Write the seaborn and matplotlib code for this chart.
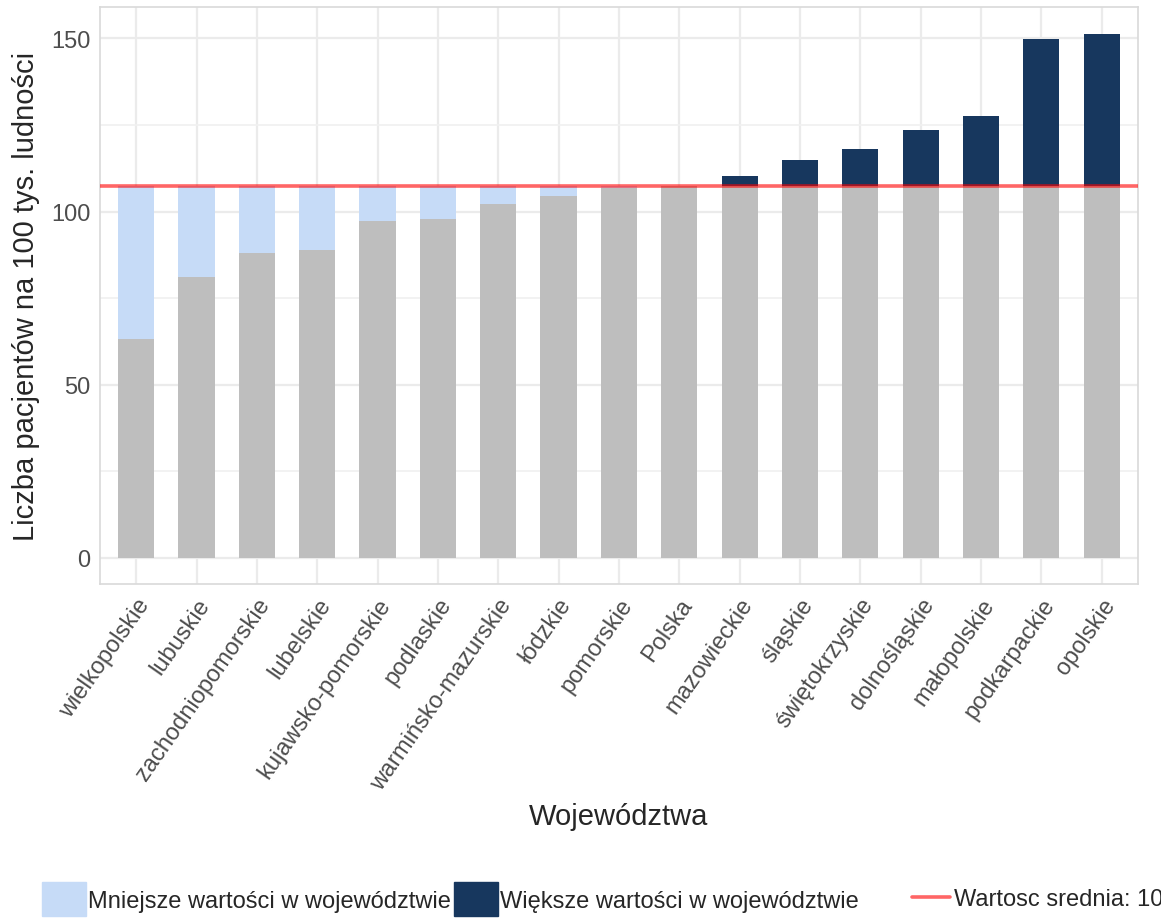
import numpy as np
import pandas as pd
import seaborn as sns
import matplotlib.pyplot as plt
from matplotlib.patches import Patch
from matplotlib.lines import Line2D

wojewodztwa = ['wielkopolskie', 'lubuskie', 'zachodniopomorskie', 'lubelskie',
               'kujawsko-pomorskie', 'podlaskie', 'warmińsko-mazurskie', 'łódzkie',
               'pomorskie', 'Polska', 'mazowieckie', 'śląskie', 'świętokrzyskie',
               'dolnośląskie', 'małopolskie', 'podkarpackie', 'opolskie']
pacjenci = [63.2, 81.2, 88.0, 88.9, 97.2, 97.8, 102.1, 104.4, 106.7, 107.5,
            110.4, 115.0, 118.2, 123.6, 127.6, 149.7, 151.4]
srednia = 107.5

c_mniej = '#C6DBF7'
c_wiecej = '#17375E'
c_szary = '#BEBEBE'

df = pd.DataFrame({'woj': wojewodztwa, 'val': pacjenci})
df['gora'] = np.maximum(df['val'], srednia)
df['dol'] = np.minimum(df['val'], srednia)
kolory = [c_wiecej if v > srednia else c_mniej for v in df['val']]

sns.set_theme(style='white')
plt.rcParams['font.family'] = ['Liberation Sans', 'DejaVu Sans']

fig = plt.figure(figsize=(11.61, 9.2), dpi=100)
ax = fig.add_axes([0.0861, 0.364, 0.894, 0.627])

# top layer (difference to the mean), then grey base on top of it
sns.barplot(data=df, x='woj', y='gora', hue='woj', palette=kolory, legend=False,
            width=0.6, saturation=1, linewidth=0, ax=ax, zorder=2)
sns.barplot(data=df, x='woj', y='dol', color=c_szary, width=0.6, saturation=1,
            linewidth=0, ax=ax, zorder=3)
ax.axhline(srednia, color='red', alpha=0.6, lw=2.6, zorder=4)

ax.set_xlim(-0.6, len(wojewodztwa) - 0.4)
ax.set_ylim(-7.6, 159)
ax.set_yticks([0, 50, 100, 150])
ax.set_yticks([25, 75, 125], minor=True)
ax.grid(True, which='major', color='#EBEBEB', lw=1.6, zorder=0)
ax.grid(True, which='minor', axis='y', color='#F0F0F0', lw=1.2, zorder=0)
ax.set_axisbelow(True)
for s in ax.spines.values():
    s.set_color('#D9D9D9')
    s.set_linewidth(1.2)

ax.tick_params(axis='both', which='major', labelsize=17, labelcolor='#4D4D4D',
               length=3, color='#B3B3B3', pad=4)
ax.tick_params(which='minor', length=0)
plt.setp(ax.get_xticklabels(), rotation=55, ha='right', rotation_mode='anchor')

ax.set_xlabel('Województwa', fontsize=21, labelpad=6)
ax.set_ylabel('Liczba pacjentów na 100 tys. ludności', fontsize=21, labelpad=8)

uchwyty = [Patch(color=c_mniej), Patch(color=c_wiecej)]
fig.legend(uchwyty, ['Mniejsze wartości w województwie', 'Większe wartości w województwie'],
           loc='center left', bbox_to_anchor=(0.0362, 0.0217), ncol=2, frameon=False,
           fontsize=17, handlelength=1.86, handleheight=1.86, handletextpad=0.08,
           columnspacing=0.15, borderpad=0, borderaxespad=0)
fig.legend([Line2D([], [], color='red', alpha=0.6, lw=2.6)],
           ['Wartosc srednia: ' + str(srednia)],
           loc='center left', bbox_to_anchor=(0.7855, 0.0217), frameon=False,
           fontsize=17, handlelength=1.6, handletextpad=0.2, borderpad=0,
           borderaxespad=0)

fig.savefig('out.png', dpi=100)
